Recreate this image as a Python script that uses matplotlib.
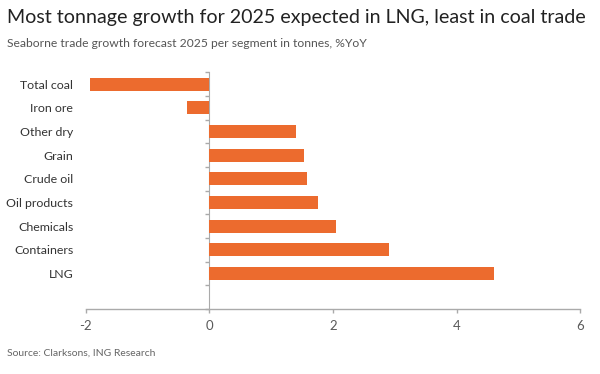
import matplotlib

matplotlib.use("Agg")
import matplotlib.pyplot as plt
import numpy as np

plt.rcParams["font.family"] = ["Lato", "DejaVu Sans"]

segments = ["Total coal", "Iron ore", "Other dry", "Grain", "Crude oil",
            "Oil products", "Chemicals", "Containers", "LNG"]
growth = [-1.94, -0.36, 1.40, 1.53, 1.58, 1.75, 2.05, 2.91, 4.61]
xticks = [-2, 0, 2, 4, 6]

ORANGE = "#EC6B2E"
AXIS = "#AAAAAA"

fig = plt.figure(figsize=(6.0, 3.74), dpi=100)
ax = fig.add_axes([0.143, 0.174, 0.824, 0.633])

pos = np.arange(len(segments))
ax.barh(pos, growth, height=0.55, color=ORANGE, zorder=2)

ax.set_xlim(-2, 6)
ax.set_ylim(len(segments) + 0.5, -0.5)
ax.set_xticks(xticks)
ax.set_xticklabels([str(t) for t in xticks])
ax.set_yticks(pos)
ax.set_yticklabels(segments)

for s in ["top", "right", "left"]:
    ax.spines[s].set_visible(False)
ax.spines["bottom"].set_color(AXIS)
ax.spines["bottom"].set_linewidth(1)
ax.tick_params(axis="x", colors=AXIS, length=3, width=1, labelcolor="#5a5a5a",
               labelsize=9.5, pad=5)
ax.tick_params(axis="y", length=0, labelcolor="#333333", labelsize=8.9, pad=9)

# zero line with small category-boundary ticks
zero = ax.secondary_yaxis(0.25)
zero.set_yticks(np.arange(-0.5, len(segments) + 1, 1.0))
zero.set_yticklabels([])
zero.spines["left"].set_color(AXIS)
zero.tick_params(axis="y", colors=AXIS, length=3, width=1)

fig.text(0.012, 0.952, "Most tonnage growth for 2025 expected in LNG, least in coal trade",
         fontsize=14.1, color="#222222", va="center", ha="left")
fig.text(0.012, 0.885, "Seaborne trade growth forecast 2025 per segment in tonnes, %YoY",
         fontsize=8.7, color="#555555", va="center", ha="left")
fig.text(0.012, 0.055, "Source: Clarksons, ING Research",
         fontsize=7.5, color="#666666", va="center", ha="left")

fig.savefig("out.png", dpi=100)
plt.close(fig)
